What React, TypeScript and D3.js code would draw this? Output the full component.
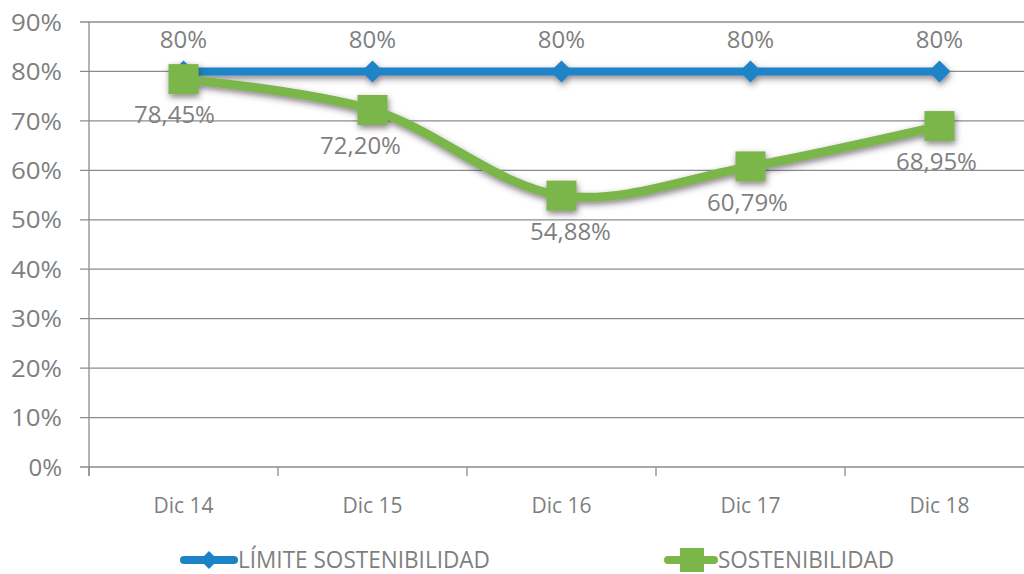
import React from "react";
import * as d3 from "d3";

const categories = ["Dic 14", "Dic 15", "Dic 16", "Dic 17", "Dic 18"];
const limite = [80, 80, 80, 80, 80];
const sostenibilidad = [78.45, 72.2, 54.88, 60.79, 68.95];
const limiteLabels = ["80%", "80%", "80%", "80%", "80%"];
const sostLabels = ["78,45%", "72,20%", "54,88%", "60,79%", "68,95%"];
const sostLabelShift = [-9, -12, 9, -3, -3];
const yTicks = [0, 10, 20, 30, 40, 50, 60, 70, 80, 90];
const seriesNames = ["LÍMITE SOSTENIBILIDAD", "SOSTENIBILIDAD"];

const BLUE = "#1a84c7";
const GREEN = "#7ab648";
const GRAY = "#7f7f7f";
const FONT = "'Open Sans', sans-serif";

export default function App() {
  const W = 1024, H = 574;
  const left = 89, right = 1034, top = 22, bottom = 467;
  const x = d3.scaleBand<string>().domain(categories).range([left, right]).padding(0);
  const y = d3.scaleLinear().domain([0, 90]).range([bottom, top]);
  const cx = (c: string) => (x(c) as number) + x.bandwidth() / 2;

  const lineGen = d3.line<number>().x((_, i) => cx(categories[i])).y((d) => y(d));
  const smoothGen = d3
    .line<number>()
    .x((_, i) => cx(categories[i]))
    .y((d) => y(d))
    .curve(d3.curveCatmullRom.alpha(0.5));

  const bandTicks = categories.map((c) => x(c) as number).concat([right]);

  return (
    <svg width={W} height={H} style={{ position: "absolute", left: 0, top: 0, background: "#fff" }}>
      <defs>
        <filter id="sh" x="-50%" y="-50%" width="200%" height="200%">
          <feDropShadow dx="1" dy="3" stdDeviation="3" floodColor="#3a2a3a" floodOpacity="0.6" />
        </filter>
      </defs>
      {yTicks.map((t) => (
        <g key={t}>
          <line x1={80} x2={right} y1={y(t)} y2={y(t)} stroke="#8c8c8c" strokeWidth={1.3} />
          <text x={62} y={y(t)} dy="0.36em" textAnchor="end" fontSize={24} fill={GRAY} fontFamily={FONT} textLength={t === 0 ? undefined : 51} lengthAdjust="spacingAndGlyphs">
            {t}%
          </text>
        </g>
      ))}
      <line x1={left} x2={left} y1={top} y2={bottom + 9} stroke="#8c8c8c" strokeWidth={1.3} />
      {bandTicks.map((t, i) => (
        <line key={i} x1={t} x2={t} y1={bottom} y2={bottom + 9} stroke="#8c8c8c" strokeWidth={1.3} />
      ))}
      {categories.map((c) => (
        <text key={c} x={cx(c)} y={513} textAnchor="middle" fontSize={21} fill={GRAY} fontFamily={FONT}>
          {c}
        </text>
      ))}

      {/* Limite line */}
      <g filter="url(#sh)">
        <path d={lineGen(limite) || ""} fill="none" stroke={BLUE} strokeWidth={8} />
        {limite.map((v, i) => {
          const px = cx(categories[i]), py = y(v);
          return (
            <path key={i} d={`M${px},${py - 11}L${px + 11},${py}L${px},${py + 11}L${px - 11},${py}Z`} fill={BLUE} />
          );
        })}
      </g>

      {/* Sostenibilidad line */}
      <g filter="url(#sh)">
        <path d={smoothGen(sostenibilidad) || ""} fill="none" stroke={GREEN} strokeWidth={9} strokeLinecap="round" />
        {sostenibilidad.map((v, i) => {
          const px = cx(categories[i]), py = y(v);
          return <rect key={i} x={px - 15} y={py - 15} width={30} height={30} fill={GREEN} />;
        })}
      </g>

      {limite.map((v, i) => (
        <text key={i} x={cx(categories[i])} y={y(v) - 23} textAnchor="middle" fontSize={24} fill={GRAY} fontFamily={FONT}>
          {limiteLabels[i]}
        </text>
      ))}
      {sostenibilidad.map((v, i) => (
        <text key={i} x={cx(categories[i]) + sostLabelShift[i]} y={y(v) + 27} dy="0.72em" textAnchor="middle" fontSize={24} fill={GRAY} fontFamily={FONT}>
          {sostLabels[i]}
        </text>
      ))}

      {/* Legend */}
      <g>
        <line x1={184} x2={234} y1={560} y2={560} stroke={BLUE} strokeWidth={8} strokeLinecap="round" />
        <path d="M209,551L218,560L209,569L200,560Z" fill={BLUE} />
        <text x={238} y={560} dy="0.36em" fontSize={23} fill={GRAY} fontFamily={FONT} textLength={252} lengthAdjust="spacingAndGlyphs">
          {seriesNames[0]}
        </text>
        <line x1={668} x2={714} y1={560} y2={560} stroke={GREEN} strokeWidth={8} strokeLinecap="round" />
        <rect x={680} y={548} width={24} height={24} fill={GREEN} />
        <text x={718} y={560} dy="0.36em" fontSize={23} fill={GRAY} fontFamily={FONT} textLength={176} lengthAdjust="spacingAndGlyphs">
          {seriesNames[1]}
        </text>
      </g>
    </svg>
  );
}
